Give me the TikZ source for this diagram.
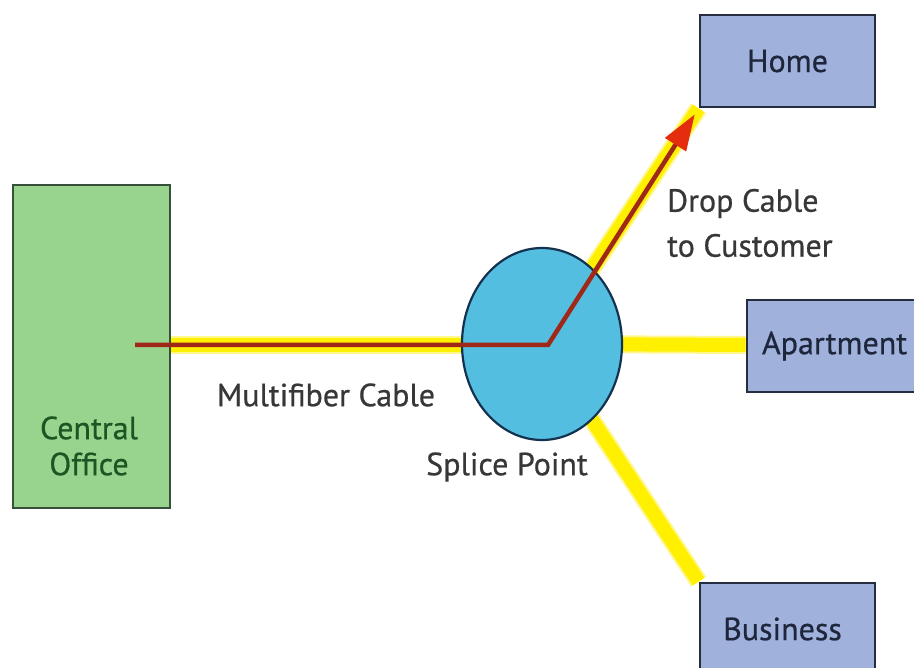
\documentclass[tikz,border=0pt]{standalone}
\usepackage{fontspec}
\setmainfont{PT Sans}[FakeBold=0.6]
\usetikzlibrary{shapes.geometric,arrows.meta,calc}
\definecolor{cogreen}{RGB}{152,212,142}
\definecolor{coedge}{RGB}{55,80,58}
\definecolor{cotext}{RGB}{30,85,35}
\definecolor{boxblue}{RGB}{160,178,220}
\definecolor{boxedge}{RGB}{38,45,64}
\definecolor{boxtext}{RGB}{30,38,60}
\definecolor{splice}{RGB}{84,190,224}
\definecolor{spliceedge}{RGB}{20,50,80}
\definecolor{fiberyellow}{RGB}{255,240,0}
\definecolor{fiberhalo}{RGB}{255,246,140}
\definecolor{fiberred}{RGB}{160,40,25}
\definecolor{arrowred}{RGB}{228,45,15}
\definecolor{labeltext}{RGB}{55,55,55}
\tikzset{
  custbox/.style={draw=boxedge, line width=2.8pt, fill=boxblue, rectangle, inner sep=0pt, text=boxtext,
    minimum width=175pt, minimum height=92pt, font=\fontsize{32}{38}\selectfont},
  cobox/.style={draw=coedge, line width=2.8pt, fill=cogreen, rectangle, inner sep=0pt,
    minimum width=157pt, minimum height=323pt},
  yfiber/.style={line width=14pt, draw=fiberyellow},
  yhalo/.style={line width=18pt, draw=fiberhalo},
  rfiber/.style={line width=4.5pt, draw=fiberred},
  lbl/.style={text=labeltext, font=\fontsize{32}{45}\selectfont, inner sep=0pt},
}
\begin{document}
\begin{tikzpicture}[x=1pt,y=-1pt]
\clip (0,0) rectangle (914,668);
\fill[white] (0,0) rectangle (914,668);
% nodes (boxes)
\node[custbox] (home) at (787.5,61) {Home};
\node[custbox, minimum width=180pt, text width=170pt, align=left] (apt) at (837,346) {\hspace*{10pt}Apartment};
\node[custbox] (bus) at (787.5,629) {\hspace*{-10pt}Business};
\node[cobox] (co) at (91.5,346.5) {};
\coordinate (hub) at (542,344);
\coordinate (bend) at (548,345);
\coordinate (start) at (135,345);
% yellow fibres
\foreach \s in {yhalo,yfiber}{
  \draw[\s] (co.east |- bend) -- (bend);
  \draw[\s] (hub) -- (home.south west);
  \draw[\s] (hub) -- (apt.west |- bend);
  \draw[\s] (hub) -- (bus.north west);
}
% splice point
\node[ellipse, draw=spliceedge, line width=2.2pt, fill=splice, minimum width=160pt, minimum height=192pt, inner sep=0pt] (sp) at (hub) {};
% red fibre with arrow
\coordinate (tip) at ($(bend)!0.975!(home.south west)$);
\coordinate (arrbase) at ($(bend)!0.80!(home.south west)$);
\draw[rfiber] (start) -- (bend) -- (arrbase);
\draw[line width=4.5pt, draw=fiberred, -{Triangle[length=36pt,width=24pt,fill=arrowred,color=arrowred]}] (arrbase) -- (tip);
% labels
\node[text=cotext, font=\fontsize{32}{36}\selectfont, align=center, inner sep=0pt] (cotxt) at (89,446) {Central\\Office};
\node[lbl] (mfc) at (326,395) {Multifiber Cable};
\node[lbl] (spl) at (507,467) {Splice Point};
\node[lbl, align=left, anchor=west] (drop) at (667,223) {Drop Cable\\to Customer};
\end{tikzpicture}
\end{document}
